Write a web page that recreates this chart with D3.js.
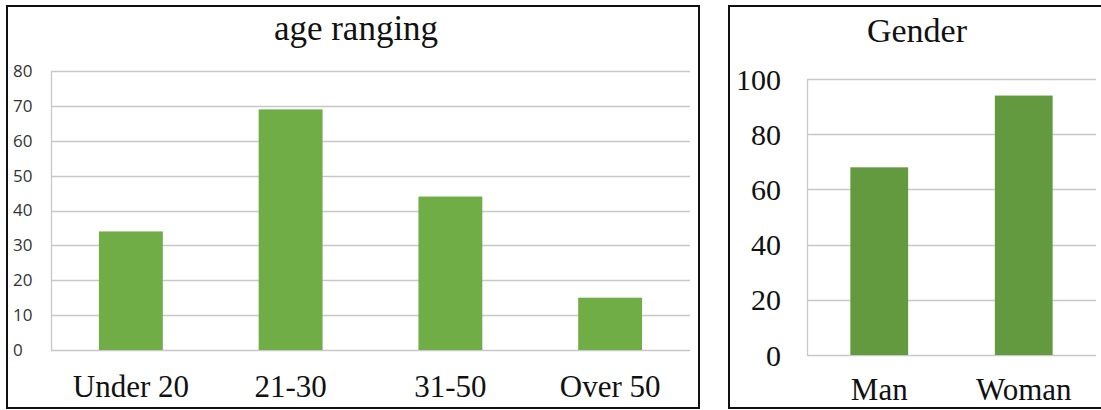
<!DOCTYPE html>
<html>
<head>
<meta charset="utf-8">
<script src="https://cdn.jsdelivr.net/npm/d3@7"></script>
<style>
  body { margin: 0; background: #fff; }
  svg { display: block; }
</style>
</head>
<body>
<svg id="chart" width="1101" height="410"></svg>
<script>
  // age chart data
  const ageCategories = ["Under 20", "21-30", "31-50", "Over 50"];
  const ageValues = [34, 69, 44, 15];
  const ageTicks = [0, 10, 20, 30, 40, 50, 60, 70, 80];

  // gender chart data
  const genderCategories = ["Man", "Woman"];
  const genderValues = [68, 94];
  const genderTicks = [0, 20, 40, 60, 80, 100];

  const svg = d3.select("#chart");
  const serif = "'Liberation Serif', 'Times New Roman', serif";
  const sans = "'Open Sans', 'Liberation Sans', sans-serif";
  const gridColor = "#c8c8c8";

  // panel frames
  svg.append("rect")
    .attr("x", 7).attr("y", 6).attr("width", 692).attr("height", 402)
    .attr("fill", "none").attr("stroke", "#111").attr("stroke-width", 2);
  svg.append("rect")
    .attr("x", 729).attr("y", 6).attr("width", 400).attr("height", 402)
    .attr("fill", "none").attr("stroke", "#111").attr("stroke-width", 2);

  function drawChart(opts) {
    const g = svg.append("g");
    const x = d3.scaleBand()
      .domain(opts.categories)
      .range([opts.left, opts.right])
      .paddingInner(opts.padding)
      .paddingOuter(opts.padding / 2);
    const y = d3.scaleLinear()
      .domain([0, d3.max(opts.ticks)])
      .range([opts.bottom, opts.top]);

    // gridlines
    g.selectAll("line.grid")
      .data(opts.ticks)
      .join("line")
      .attr("class", "grid")
      .attr("x1", opts.left).attr("x2", opts.right)
      .attr("y1", d => Math.round(y(d)) + 0.5)
      .attr("y2", d => Math.round(y(d)) + 0.5)
      .attr("stroke", gridColor).attr("stroke-width", 1.3);

    g.append("line")
      .attr("x1", opts.left + 0.5).attr("x2", opts.left + 0.5)
      .attr("y1", y(d3.max(opts.ticks))).attr("y2", opts.bottom)
      .attr("stroke", gridColor).attr("stroke-width", 1.3);

    // bars
    g.selectAll("rect.bar")
      .data(opts.values)
      .join("rect")
      .attr("class", "bar")
      .attr("x", (d, i) => x(opts.categories[i]))
      .attr("y", d => y(d))
      .attr("width", x.bandwidth())
      .attr("height", d => opts.bottom - y(d))
      .attr("fill", opts.color);

    // y tick labels
    g.selectAll("text.ytick")
      .data(opts.ticks)
      .join("text")
      .attr("class", "ytick")
      .attr("x", opts.tickX)
      .attr("y", d => y(d))
      .attr("dy", "0.35em")
      .attr("text-anchor", opts.tickAnchor)
      .attr("font-family", opts.tickFont)
      .attr("font-size", opts.tickSize)
      .attr("fill", opts.tickColor)
      .text(d => d);

    // x labels
    g.selectAll("text.xlabel")
      .data(opts.categories)
      .join("text")
      .attr("class", "xlabel")
      .attr("x", d => x(d) + x.bandwidth() / 2)
      .attr("y", opts.labelY)
      .attr("text-anchor", "middle")
      .attr("font-family", serif)
      .attr("font-size", 31)
      .attr("fill", "#111")
      .text(d => d);

    // title
    g.append("text")
      .attr("x", opts.titleX)
      .attr("y", opts.titleY)
      .attr("text-anchor", "middle")
      .attr("font-family", serif)
      .attr("font-size", opts.titleSize)
      .attr("fill", "#111")
      .text(opts.title);
  }

  drawChart({
    categories: ageCategories,
    values: ageValues,
    ticks: ageTicks,
    left: 51, right: 690, top: 71, bottom: 350,
    padding: 0.6,
    color: "#70ad47",
    tickX: 13, tickAnchor: "start", tickFont: sans, tickSize: 17, tickColor: "#333",
    labelY: 397,
    title: "age ranging", titleX: 356, titleY: 40, titleSize: 35
  });

  drawChart({
    categories: genderCategories,
    values: genderValues,
    ticks: genderTicks,
    left: 807, right: 1096, top: 79, bottom: 355,
    padding: 0.6,
    color: "#639a3f",
    tickX: 781, tickAnchor: "end", tickFont: serif, tickSize: 30, tickColor: "#111",
    labelY: 400,
    title: "Gender", titleX: 917, titleY: 42, titleSize: 34
  });
</script>
</body>
</html>
